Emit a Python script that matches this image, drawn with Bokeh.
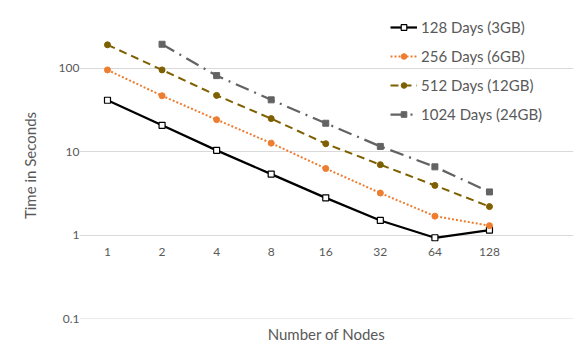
from bokeh.plotting import figure
from bokeh.models import Range1d, FixedTicker, Legend, LegendItem
from bokeh.core.properties import value
from bokeh.embed import file_html
from bokeh.resources import INLINE

nodes = [1, 2, 4, 8, 16, 32, 64, 128]
node_labels = ["1", "2", "4", "8", "16", "32", "64", "128"]
t128 = [41.5, 20.8, 10.4, 5.4, 2.8, 1.5, 0.93, 1.15]
t256 = [96, 47, 24.3, 12.7, 6.3, 3.2, 1.69, 1.3]
t512 = [192, 96, 47.5, 25, 12.5, 7.0, 3.95, 2.2]
nodes1024 = [2, 4, 8, 16, 32, 64, 128]
t1024 = [195, 82, 42, 22, 11.6, 6.6, 3.3]
y_ticks = [0.1, 1, 10, 100]
series_names = ["128 Days (3GB)", "256 Days (6GB)", "512 Days (12GB)", "1024 Days (24GB)"]

FONT = "Lato"
GRAY = "#595959"

p = figure(width=576, height=354, output_backend="svg", toolbar_location=None,
           x_axis_type="log", y_axis_type="log",
           x_range=Range1d(2 ** -0.513, 2 ** 8.54), y_range=Range1d(0.1, 10 ** 2.671),
           min_border_left=79, min_border_right=3, min_border_top=12, min_border_bottom=36)
p.outline_line_color = None
p.background_fill_color = "white"
p.border_fill_color = "white"

# horizontal gridlines as glyphs
p.hspan(y=y_ticks, line_color="#d9d9d9", line_width=1.2)

# y axis
p.yaxis.ticker = FixedTicker(ticks=y_ticks)
p.yaxis.major_label_overrides = {0.1: "0.1", 1: "1", 10: "10", 100: "100"}
p.yaxis.axis_line_color = None
p.yaxis.major_tick_line_color = None
p.yaxis.minor_tick_line_color = None
p.yaxis.major_tick_out = 0
p.yaxis.major_tick_in = 0
p.yaxis.major_label_standoff = 0
p.yaxis.major_label_text_font = FONT
p.yaxis.major_label_text_font_size = "12px"
p.yaxis.major_label_text_color = GRAY
p.yaxis.axis_label = "Time in Seconds"
p.yaxis.axis_label_text_font = FONT
p.yaxis.axis_label_text_font_size = "15px"
p.yaxis.axis_label_text_font_style = "normal"
p.yaxis.axis_label_text_color = GRAY
p.yaxis.axis_label_standoff = 17
p.grid.visible = False

# x axis (labels drawn at y=1 like Excel's crossing)
p.xaxis.ticker = FixedTicker(ticks=[])
p.xaxis.axis_line_color = None
p.xaxis.major_tick_line_color = None
p.xaxis.minor_tick_line_color = None
p.xaxis.axis_label = "Number of Nodes"
p.xaxis.axis_label_text_font = FONT
p.xaxis.axis_label_text_font_size = "15px"
p.xaxis.axis_label_text_font_style = "normal"
p.xaxis.axis_label_text_color = GRAY
p.xaxis.axis_label_standoff = 6

p.text(x=nodes, y=[1] * len(nodes), text=node_labels, y_offset=17,
       text_align="center", text_baseline="middle", text_font=value(FONT),
       text_font_size="12px", text_color=GRAY)

# series
l1 = p.line(nodes, t128, line_color="black", line_width=2.25)
m1 = p.scatter(nodes, t128, marker="square", size=6, fill_color="white", line_color="black", line_width=1.2)

l2 = p.line(nodes, t256, line_color="#ED7D31", line_width=2, line_dash="2 2")
m2 = p.scatter(nodes, t256, marker="circle", size=6, fill_color="#ED7D31", line_color="#ED7D31")

l3 = p.line(nodes, t512, line_color="#7F6000", line_width=2, line_dash="8 5")
m3 = p.scatter(nodes, t512, marker="circle", size=6, fill_color="#7F6000", line_color="#7F6000")

l4 = p.line(nodes1024, t1024, line_color="#636363", line_width=2.25, line_dash="14 6 2 6")
m4 = p.scatter(nodes1024, t1024, marker="square", size=6, fill_color="#636363", line_color="#636363")

legend = Legend(items=[
    LegendItem(label=series_names[0], renderers=[l1, m1]),
    LegendItem(label=series_names[1], renderers=[l2, m2]),
    LegendItem(label=series_names[2], renderers=[l3, m3]),
    LegendItem(label=series_names[3], renderers=[l4, m4]),
], location=(311, 191))
legend.border_line_color = None
legend.background_fill_alpha = 0
legend.padding = 0
legend.margin = 0
legend.spacing = 2
legend.glyph_width = 27
legend.glyph_height = 14
legend.label_height = 27
legend.label_standoff = 4
legend.label_text_font = FONT
legend.label_text_font_size = "15px"
legend.label_text_color = GRAY
p.add_layout(legend)

open("out.html", "w").write(file_html(p, INLINE))
